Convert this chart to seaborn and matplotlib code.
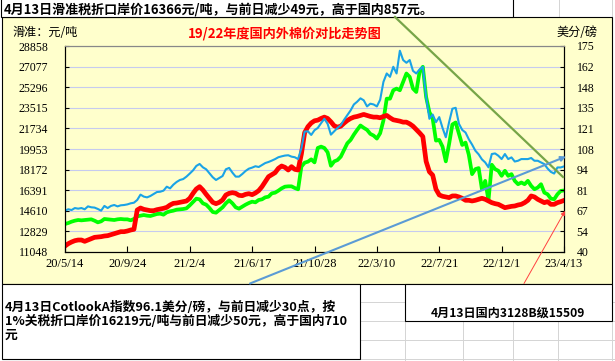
import numpy as np
import pandas as pd
import matplotlib
matplotlib.use('Agg')
import matplotlib.pyplot as plt
from matplotlib.lines import Line2D
from matplotlib.patches import Rectangle, FancyArrowPatch
import seaborn as sns

# ---------------- data (weekly readings) ----------------
start_date = '2020-05-14'
n_weeks = 153

# Cotlook A index, US cents / lb (right axis)
cotlook_a = [
    67.1, 68.0, 67.5, 68.8, 68.4, 68.8, 68.0, 69.9, 69.3, 69.1, 68.2, 67.1, 70.2, 68.8, 70.2, 70.8,
    69.9, 70.6, 70.8, 71.2, 71.9, 72.3, 74.1, 77.6, 76.3, 75.8, 76.7, 78.0, 79.3, 79.5, 80.2, 82.8,
    81.7, 84.1, 85.9, 87.2, 87.8, 89.4,
    91.4, 93.5, 96.4, 97.7, 95.5, 94.2, 91.6, 89.0, 87.2, 88.5, 89.8, 94.2, 95.1, 92.0, 89.4, 89.4,
    91.1, 93.1, 94.6, 95.3, 96.2, 95.7, 97.0, 98.3, 99.0, 99.9, 100.9, 102.1, 102.7, 103.2, 103.4,
    102.5, 102.1, 100.9, 107.9, 118.9, 119.1, 116.7,
    119.8, 121.3, 124.4, 127.3, 124.0, 116.9, 119.1, 121.3, 123.1, 126.6, 129.7, 132.8, 136.7, 138.5,
    140.7, 139.4, 135.4, 137.2, 136.7, 135.4, 139.8, 151.5, 157.0, 154.8, 161.4, 157.0, 171.9, 165.8,
    164.0, 165.8, 158.7, 157.0, 159.6, 161.4, 141.6, 127.3, 130.1, 125.1,
    128.4, 121.3, 115.2, 125.1, 133.9, 134.5, 124.0, 120.0, 118.3, 113.9, 110.4, 106.4, 104.0, 100.7,
    98.7, 95.5, 104.2, 104.6, 103.1, 100.9, 104.2, 100.9, 102.0, 99.3, 99.8, 100.9, 100.9, 100.9,
    101.6, 99.8, 99.8, 98.7, 97.6, 94.7, 92.5, 91.4, 95.4, 95.4, 96.1,
]

# 滑准税折口岸价, yuan / ton (left axis)
import_price = [
    13468, 13555, 13670, 13756, 13814, 13785, 13814, 13843, 13872, 13756, 13612, 13699, 13901, 13872,
    13843, 13814, 13872, 13901, 13872, 13872, 13785, 13901, 14131, 14189, 14246, 14189, 14160, 14246,
    14333, 14362, 14275, 14477, 14563, 14621, 14707, 14736, 14765, 14823,
    15082, 15371, 15659, 15601, 15255, 15140, 14852, 14506, 14448, 14679, 14910, 15255, 15515, 15255,
    14910, 14794, 14967, 15140, 15284, 15400, 15342, 15544, 15601, 15774, 15832, 16120, 16178, 16351,
    16552, 16696, 16725, 16725, 16581, 16466, 18426, 18771, 18858, 19060,
    18795, 20042, 20158, 20042, 19665, 18505, 18882, 18998, 19288, 19868, 20448, 20738, 21202, 21608,
    21985, 21782, 21608, 21260, 21115, 20854, 21318, 22420, 24305, 24305, 25030, 25175, 25030, 25755,
    26480, 26190, 25175, 24885, 26625, 27060, 24450, 23145, 22565, 20680,
    20738, 20158, 18882, 20390, 22072, 22246, 21260, 20303, 20506, 19462, 17780, 18215, 18302, 16475,
    17200, 15518, 18592, 18215, 18070, 17635, 18070, 17635, 17780, 17200, 16910, 17055, 16910, 17200,
    16765, 16475, 16620, 16910, 16185, 16040, 15663, 15605, 16040, 16330, 16366,
]

# 国内3128B, yuan / ton (left axis)
domestic_3128b = [
    11566, 11768, 11912, 12027, 12085, 12085, 11970, 12085, 12200, 12315, 12344, 12373, 12431, 12460,
    12546, 12632, 12719, 12805, 12805, 12863, 12949, 13007, 14679, 14852, 14736, 14679, 14621, 14621,
    14707, 14765, 14823, 14909, 15111, 15255, 15284, 15341, 15399, 15457,
    15688, 16120, 16495, 16696, 16408, 16034, 15688, 15342, 15227, 15342, 15544, 15976, 16120, 16178,
    16120, 15947, 15918, 16034, 16091, 16005, 16149, 16351, 16696, 17129, 17561, 17734, 17907, 18282,
    18483, 18368, 18137, 18426, 18195, 18137, 19521, 21365, 21884, 22201,
    22391, 22449, 22594, 22710, 22594, 22304, 21956, 21840, 21927, 22188, 22420, 22594, 22710, 22768,
    22855, 22942, 22855, 22768, 22710, 22710, 22652, 22768, 22855, 22652, 22478, 22420, 22362, 22275,
    22275, 22130, 21927, 21637, 21347, 21028, 18882, 17983, 17693, 16475,
    15982, 15866, 15808, 15750, 15895, 15895, 15808, 15692, 15518, 15518, 15460, 15518, 15605, 15692,
    15605, 15460, 15315, 15228, 15170, 15025, 14880, 14938, 14996, 15025, 15112, 15170, 15315, 15518,
    15895, 15808, 15605, 15460, 15315, 15402, 15170, 15170, 15315, 15402, 15509,
]

x_tick_labels = ['20/5/14', '20/9/24', '21/2/4', '21/6/17', '21/10/28',
                 '22/3/10', '22/7/21', '22/12/1', '23/4/13']
left_ticks = [11048, 12829, 14610, 16391, 18172, 19953, 21734, 23515, 25296, 27077, 28858]
right_ticks = [40, 53.5, 67, 80.5, 94, 107.5, 121, 134.5, 148, 161.5, 175]
right_tick_labels = ['40', '54', '67', '81', '94', '108', '121', '135', '148', '162', '175']

title_text = '19/22年度国内外棉价对比走势图'
left_unit = '滑准：元/吨'
right_unit = '美分/磅'
top_note = '4月13日滑准税折口岸价16366元/吨，与前日减少49元，高于国内857元。'
bottom_note = ['4月13日CotlookA指数96.1美分/磅，与前日减少30点，按',
               '1%关税折口岸价16219元/吨与前日减少50元，高于国内710',
               '元']
right_note = '4月13日国内3128B级15509'

# ---------------- figure ----------------
cjk = ['Noto Sans CJK SC', 'DejaVu Sans']
plt.rcParams['font.family'] = cjk

W, H = 615, 361
fig = plt.figure(figsize=(W / 100, H / 100), dpi=100)
fig.patch.set_facecolor('white')


def fx(px):
    return px / W


def fy(py):
    return 1 - py / H


def rect(x0, y0, x1, y1, fc, ec='black', lw=0.8, z=-5):
    r = Rectangle((fx(x0), fy(y1)), (x1 - x0) / W, (y1 - y0) / H,
                  transform=fig.transFigure, facecolor=fc, edgecolor=ec, lw=lw, zorder=z)
    fig.add_artist(r)


def gline(x0, y0, x1, y1, color='#D4D4D4', lw=0.7, z=-8):
    fig.add_artist(Line2D([fx(x0), fx(x1)], [fy(y0), fy(y1)], transform=fig.transFigure,
                          color=color, lw=lw, zorder=z))


# spreadsheet cell lines
for yy in [302, 321, 340, 359]:
    gline(360, yy, 405, yy)
    gline(612, yy, 615, yy)
for yy in [340, 359]:
    gline(405, yy, 615, yy)
for xx in [405, 463, 513, 558, 612]:
    gline(xx, 321, xx, 361)
for xx in [559, 612]:
    gline(xx, 0, xx, 17)

# boxes
rect(1, -2, 513, 17, 'white', z=-4)
rect(2, 17, 612, 283.5, '#FFFFCC', z=-6)
rect(2, 283.5, 360, 359, 'white', z=-4)
rect(405, 283.5, 612, 321, 'white', z=-4)

# axes
ax = fig.add_axes([fx(65), fy(252), 499 / W, 206 / H])
ax.set_facecolor('none')
ax2 = ax.twinx()

dates = pd.date_range(start_date, periods=n_weeks, freq='7D')
df = pd.DataFrame({'date': dates, 'cotlook': cotlook_a,
                   'import': import_price, 'domestic': domestic_3128b})

sns.lineplot(data=df, x='date', y='import', ax=ax, color='#00FF00', lw=2.7)
sns.lineplot(data=df, x='date', y='domestic', ax=ax, color='#FF0000', lw=3.4)
sns.lineplot(data=df, x='date', y='cotlook', ax=ax2, color='#1AA3E6', lw=1.5)

ytick_font = {'family': 'Liberation Serif', 'size': 8.5}
xtick_font = {'family': 'Liberation Serif', 'size': 9}

ax.set_xlim(dates[0], dates[-1])
xt = pd.date_range(start_date, periods=len(x_tick_labels), freq='133D')
ax.set_xticks(xt)
ax.set_xticklabels(x_tick_labels, fontdict=xtick_font)
ax.set_ylim(left_ticks[0], left_ticks[-1])
ax.set_yticks(left_ticks)
ax.set_yticklabels([str(v) for v in left_ticks], fontdict=ytick_font)
ax2.set_ylim(right_ticks[0], right_ticks[-1])
ax2.set_yticks(right_ticks)
ax2.set_yticklabels(right_tick_labels, fontdict=ytick_font)
for a in (ax, ax2):
    a.set_xlabel('')
    a.set_ylabel('')
    for s in ['left', 'bottom', 'right']:
        a.spines[s].set_color('black')
        a.spines[s].set_linewidth(0.8)
    a.spines['top'].set_color('#888888')
    a.spines['top'].set_linewidth(0.8)

ax.yaxis.grid(True, color='#C6CBEF', lw=0.8)
ax.xaxis.grid(False)
ax2.grid(False)
ax.set_axisbelow(True)
ax.tick_params(axis='y', direction='in', length=3, width=0.8, pad=12, colors='black')
ax.tick_params(axis='x', direction='in', length=4, width=0.8, pad=4, colors='black')
ax2.tick_params(axis='y', direction='in', length=3, width=0.8, pad=9, colors='black')

# texts (font size fitted to the measured widths of the reference)
renderer = fig.canvas.get_renderer()


def fitted_text(x, y, s, width, ha='left', **kw):
    t = fig.text(fx(x), fy(y), s, ha=ha, va='center', **kw)
    bb = t.get_window_extent(renderer)
    t.set_fontsize(t.get_fontsize() * width / bb.width)
    return t


fitted_text(4, 9.5, top_note, 432, fontsize=9.5, fontweight='bold')
fitted_text(12, 33, left_unit, 65, fontsize=8.5)
fitted_text(284.5, 33.5, title_text, 195, ha='center', fontsize=9.5, fontweight='bold',
            color='#FF0000')
fitted_text(557, 33, right_unit, 41, fontsize=8.5)
b1 = fitted_text(5, 307, bottom_note[0], 334, fontsize=9.5, fontweight='bold')
b2 = fitted_text(5, 321, bottom_note[1], 343, fontsize=9.5, fontweight='bold')
fs_b = (b1.get_fontsize() + b2.get_fontsize()) / 2
b1.set_fontsize(fs_b)
b2.set_fontsize(fs_b)
fig.text(fx(5), fy(335), bottom_note[2], fontsize=fs_b, fontweight='bold', ha='left', va='center')
fitted_text(507.5, 313, right_note, 155, ha='center', fontsize=9.5, fontweight='bold')

# drawn shapes on top of the chart
fig.add_artist(Line2D([fx(395), fx(563)], [fy(17), fy(177)], transform=fig.transFigure,
                      color='#77A548', lw=1.6, zorder=20))
fig.add_artist(FancyArrowPatch((fx(250), fy(283.5)), (fx(566), fy(156.5)),
                               transform=fig.transFigure, arrowstyle='-|>', mutation_scale=7,
                               color='#5B9BD5', lw=1.5, shrinkA=0, shrinkB=0, zorder=21))
fig.add_artist(FancyArrowPatch((fx(524), fy(283.5)), (fx(565), fy(211)),
                               transform=fig.transFigure, arrowstyle='-|>', mutation_scale=6,
                               color='#FF4040', lw=0.7, shrinkA=0, shrinkB=0, zorder=21))

fig.savefig('out.png', dpi=100)
